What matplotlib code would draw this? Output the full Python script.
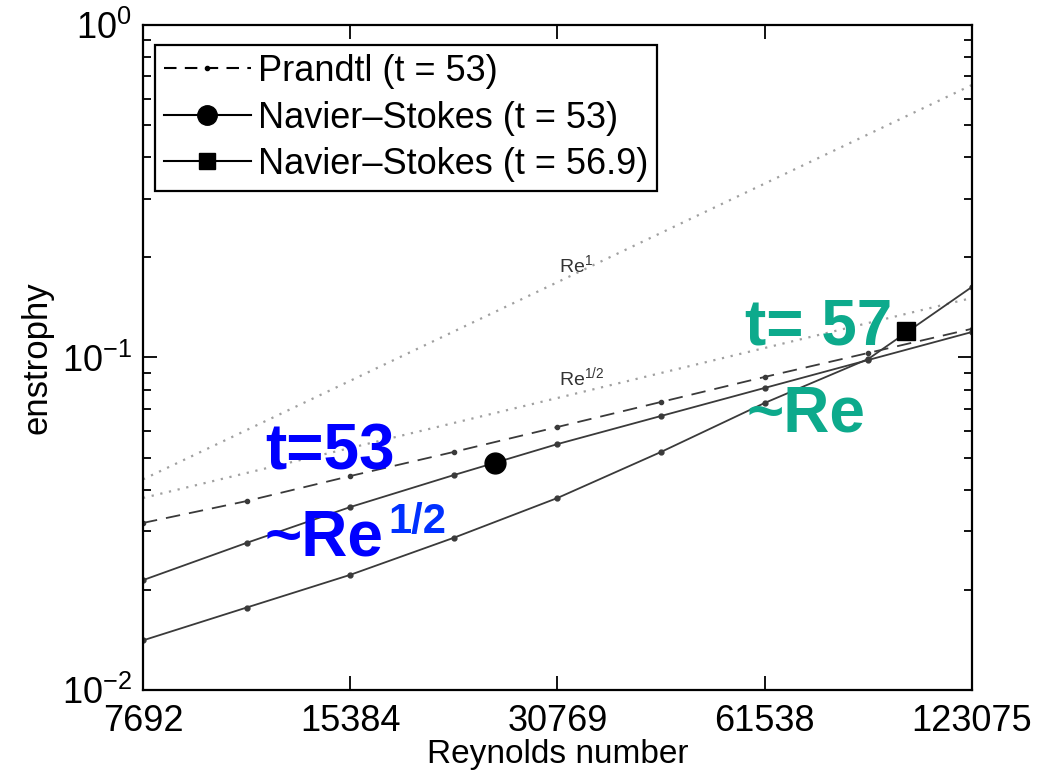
import matplotlib
matplotlib.use("Agg")
import matplotlib.pyplot as plt
from matplotlib.lines import Line2D

plt.rcParams['font.family'] = ['Liberation Sans', 'DejaVu Sans']
plt.rcParams['mathtext.fontset'] = 'custom'
plt.rcParams['mathtext.rm'] = 'Liberation Sans'
plt.rcParams['mathtext.it'] = 'Liberation Sans:italic'
plt.rcParams['mathtext.bf'] = 'Liberation Sans:bold'

# Reynolds numbers
re = [7692, 10878, 15384, 21756, 30769, 43512, 61538, 87025, 123075]
re_ticks = [7692, 15384, 30769, 61538, 123075]

# enstrophy values
prandtl_53 = [0.0318, 0.0370, 0.0440, 0.0520, 0.0618, 0.0735, 0.0874, 0.1032, 0.122]
ns_53 = [0.0214, 0.0277, 0.0355, 0.0443, 0.0549, 0.0667, 0.0810, 0.0983, 0.1193]
ns_569 = [0.0141, 0.0177, 0.0222, 0.0287, 0.0378, 0.0520, 0.0730, 0.0990, 0.163]

# highlighted points
circle_re, circle_val = 25000, 0.0482
square_re, square_val = 98700, 0.1202

# reference slopes (end points)
ref_re = [7692, 123075]
ref_re1 = [0.0430, 0.660]
ref_re12 = [0.0378, 0.151]

fig = plt.figure(figsize=(10.46, 7.78), dpi=100)
ax = fig.add_axes([0.1367, 0.1131, 0.7925, 0.8548])

line_col = '#3a3a3a'
ax.plot(ref_re, ref_re1, linestyle=(0, (1, 3)), color='#a0a0a0', lw=1.6)
ax.plot(ref_re, ref_re12, linestyle=(0, (1, 3)), color='#a0a0a0', lw=1.6)

ax.plot(re, prandtl_53, linestyle=(0, (8, 5)), color=line_col, lw=1.3,
        marker='.', markersize=6)
ax.plot(re, ns_53, '-', color=line_col, lw=1.3, marker='.', markersize=7)
ax.plot(re, ns_569, '-', color=line_col, lw=1.3, marker='.', markersize=7)
ax.plot([circle_re], [circle_val], 'o', color='black', markersize=15)
ax.plot([square_re], [square_val], 's', color='black', markersize=13)

ax.set_xscale('log')
ax.set_yscale('log')
ax.set_xlim(7692, 123075)
ax.set_ylim(1e-2, 1e0)
ax.set_xticks(re_ticks)
ax.set_xticklabels([str(v) for v in re_ticks])
ax.xaxis.set_minor_locator(matplotlib.ticker.NullLocator())

ax.tick_params(which='both', direction='in', top=True, right=True,
               labelsize=26, width=1.3)
ax.tick_params(axis='x', pad=10)
ax.tick_params(axis='y', pad=8)
ax.tick_params(which='major', length=10)
ax.tick_params(which='minor', length=6)
for s in ax.spines.values():
    s.set_linewidth(1.6)

ax.set_xlabel('Reynolds number', fontsize=24, labelpad=0)
ax.set_ylabel('enstrophy', fontsize=25, labelpad=6)

# reference labels
ax.text(0.502, 0.628, r'Re$^{1}$', transform=ax.transAxes, fontsize=14,
        color='#333333')
ax.text(0.502, 0.459, r'Re$^{1/2}$', transform=ax.transAxes, fontsize=14,
        color='#333333')

# annotations
ax.text(0.147, 0.331, 't=53', transform=ax.transAxes, fontsize=46,
        fontweight='bold', color='#0000FF')
ax.text(0.147, 0.203, '~Re', transform=ax.transAxes, fontsize=46,
        fontweight='bold', color='#0000FF')
ax.text(0.2955, 0.236, '1/2', transform=ax.transAxes, fontsize=30,
        fontweight='bold', color='#0030FF')
ax.text(0.726, 0.519, 't= 57', transform=ax.transAxes, fontsize=46,
        fontweight='bold', color='#0DAA8C')
ax.text(0.728, 0.388, '~Re', transform=ax.transAxes, fontsize=46,
        fontweight='bold', color='#0DAA8C')

handles = [
    Line2D([], [], linestyle=(0, (6, 4)), color='black', lw=1.5,
           marker='.', markersize=6),
    Line2D([], [], linestyle='-', color='black', lw=1.5, marker='o',
           markersize=14),
    Line2D([], [], linestyle='-', color='black', lw=1.5, marker='s',
           markersize=12),
]
labels = ['Prandtl (t = 53)', 'Navier\u2013Stokes (t = 53)',
          'Navier\u2013Stokes (t = 56.9)']
leg = ax.legend(handles, labels, loc='upper left',
                bbox_to_anchor=(0.0145, 0.97), borderaxespad=0,
                fontsize=26, fancybox=False, framealpha=1, edgecolor='black',
                handlelength=2.4, handletextpad=0.2, labelspacing=0.32,
                borderpad=0.25)
leg.get_frame().set_linewidth(1.6)

fig.savefig('out.png', dpi=100)
